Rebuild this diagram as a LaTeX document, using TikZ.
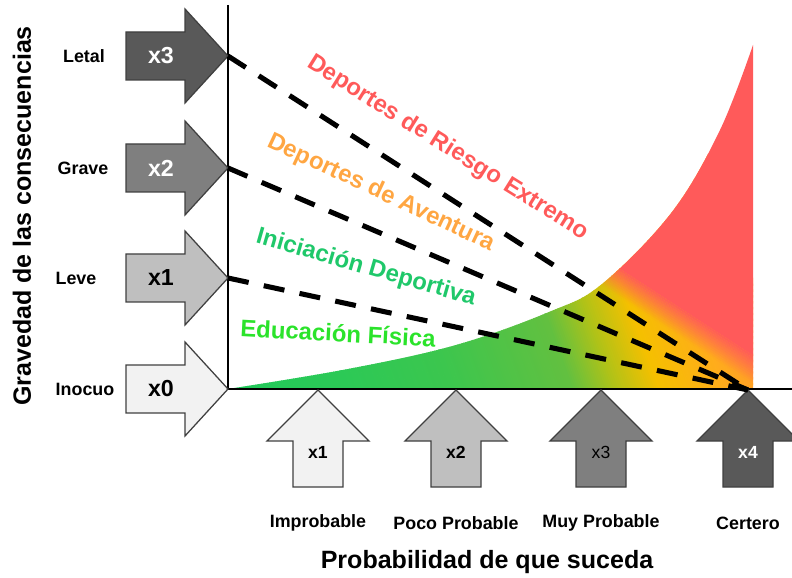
\documentclass[tikz,border=0pt]{standalone}
\usepackage{fontspec}
\setmainfont{Liberation Sans}
\usepackage{xcolor}
\usepackage{tikz}

\definecolor{grnA}{HTML}{1EC85C}
\definecolor{grnB}{HTML}{2CC956}
\definecolor{grnC}{HTML}{3CC64E}
\definecolor{grnD}{HTML}{62C040}
\definecolor{ylwA}{HTML}{B0C218}
\definecolor{ylwB}{HTML}{F5C000}
\definecolor{orgA}{HTML}{FFAC1C}
\definecolor{orgB}{HTML}{FF9430}
\definecolor{riskred}{HTML}{FF5A5A}
\definecolor{colAventura}{HTML}{FFA642}
\definecolor{colIniciacion}{HTML}{1FC86A}
\definecolor{colEducacion}{HTML}{2BE32B}
\definecolor{grayA}{HTML}{F2F2F2}
\definecolor{grayB}{HTML}{BFBFBF}
\definecolor{grayC}{HTML}{7F7F7F}
\definecolor{grayD}{HTML}{595959}

\begin{document}
\begin{tikzpicture}[x=0.025cm, y=-0.025cm,
	axisline/.style={line width=1.4pt, black},
	blockarrow/.style={draw=black!75, line width=0.9pt, line join=miter},
	riskline/.style={line width=3.6pt, dash pattern=on 15pt off 11pt},
	sevlab/.style={font=\bfseries\fontsize{12.7}{15}\selectfont},
	arrowtxt/.style={font=\bfseries\fontsize{16.5}{18}\selectfont},
	probtxt/.style={font=\fontsize{12.5}{14}\selectfont},
	sportlab/.style={font=\bfseries\fontsize{17}{20}\selectfont, inner sep=0pt},
	axistitle/.style={font=\bfseries\fontsize{17.8}{20}\selectfont},
]
\useasboundingbox (0,0) rectangle (792,578);
%
% area under the curve, green to red
\begin{scope}
\clip plot[smooth, tension=0.6] coordinates {(228,389) (348,369) (456,345) (549,312) (602,284) (672,212) (720,130) (753,45)} -- (753,389) -- cycle;
\begin{scope}[rotate=20]
\foreach \sa/\sb/\ca/\cb in {60/192/grnA/grnB, 192/292/grnB/grnC, 292/404/grnC/grnD,
	404/444/grnD/ylwA, 444/486/ylwA/ylwB, 486/548/ylwB/orgA, 548/610/orgA/orgB}{
	\pgfmathtruncatemacro\sn{\sa+2}
	\foreach \s in {\sa,\sn,...,\sb}{
		\pgfmathtruncatemacro\p{100*(\sb-\s)/(\sb-\sa)}
		\fill[fill=\ca!\p!\cb] (\s,-1000) rectangle (\s+2.6,1000);
	}
}
\end{scope}
\begin{scope}[rotate=57]
\foreach \s in {88,90,...,110}{
	\pgfmathsetmacro\op{(\s-87)/25}
	\fill[riskred, opacity=\op] (\s,-1000) rectangle (\s+2,1000);
}
\fill[riskred] (112,-1000) rectangle (500,1000);
\end{scope}
\end{scope}
%
\coordinate (O) at (228,389);
\coordinate (ytop) at (228,5);
\coordinate (xend) at (792,389);
\draw[axisline] (ytop) -- (O) -- (xend);
%
% severity arrows
\foreach \yy/\k/\fc/\tc/\word/\wx in {56/3/grayD/white/Letal/84, 168/2/grayC/white/Grave/83,
	278/1/grayB/black/Leve/76, 389/0/grayA/black/Inocuo/85}{
	\draw[blockarrow, fill=\fc] (126,\yy-24) -- (185,\yy-24) -- (185,\yy-47) -- (228,\yy)
		-- (185,\yy+47) -- (185,\yy+24) -- (126,\yy+24) -- cycle;
	\node[arrowtxt, text=\tc] (sev\k) at (161,\yy) {x\k};
	\node[sevlab] (sevlab\k) at (\wx,\yy) {\word};
	\coordinate (sevtip\k) at (228,\yy);
}
% probability arrows
\foreach \xx/\k/\fc/\tc/\wt/\word in {318/1/grayA/black/\bfseries/Improbable,
	456/2/grayB/black/\bfseries/Poco Probable, 601/3/grayC/black/\mdseries/Muy Probable,
	748/4/grayD/white/\bfseries/Certero}{
	\draw[blockarrow, fill=\fc] (\xx,390) -- (\xx+51,441) -- (\xx+25,441) -- (\xx+25,487)
		-- (\xx-25,487) -- (\xx-25,441) -- (\xx-51,441) -- cycle;
	\node[probtxt, text=\tc] (prob\k) at (\xx,452) {\wt x\k};
	\node[sevlab] (problab\k) at (\xx,523) {\word};
	\coordinate (probtip\k) at (\xx,390);
}
%
\draw[riskline] (sevtip3) -- (probtip4);
\draw[riskline] (sevtip2) -- (probtip4);
\draw[riskline] (sevtip1) -- (probtip4);
%
\node[sportlab, text=riskred, rotate=-32] (riesgo) at (448,148) {Deportes de Riesgo Extremo};
\node[sportlab, text=colAventura, rotate=-25] (aventura) at (381,193) {Deportes de Aventura};
\node[sportlab, text=colIniciacion, rotate=-16] (iniciacion) at (366,268) {Iniciación Deportiva};
\node[sportlab, text=colEducacion, rotate=-3] (educacion) at (338,333) {Educación Física};
%
\node[axistitle] (xtitle) at (487,562) {Probabilidad de que suceda};
\node[axistitle, rotate=90] (ytitle) at (22,216) {Gravedad de las consecuencias};
\end{tikzpicture}
\end{document}
